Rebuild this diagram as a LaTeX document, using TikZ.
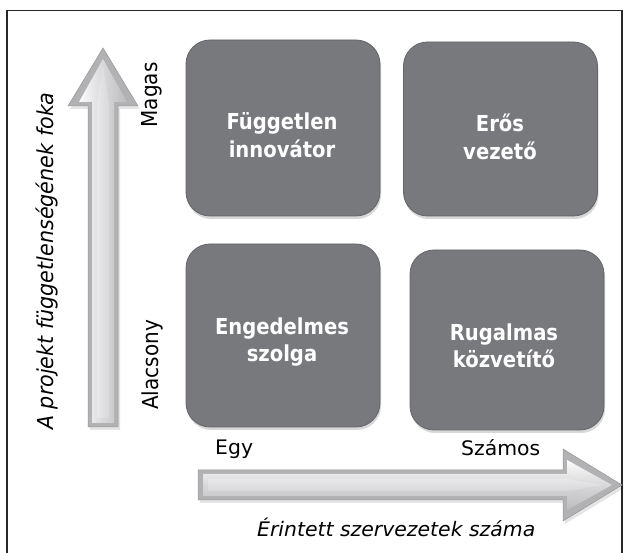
\documentclass[tikz,border=0pt]{standalone}
\usepackage{fontspec}
\setmainfont{DejaVu Sans}
\newfontfamily\boxfont{DejaVu Sans}[FakeStretch=0.89]
\newfontfamily\hfont{DejaVu Sans}[FakeStretch=1.02]
\newfontfamily\vfont{DejaVu Sans}[FakeStretch=0.91]
\newfontfamily\vlabfont{DejaVu Sans}[FakeStretch=0.94]
\usetikzlibrary{shadows}
\definecolor{boxgray}{RGB}{120,121,125}
\definecolor{boxedge}{RGB}{100,101,105}
\definecolor{framecol}{RGB}{40,40,40}
\definecolor{arrowedge}{RGB}{178,178,180}
\definecolor{arrowline}{RGB}{150,150,152}
\definecolor{arrowdark}{RGB}{188,188,190}
\definecolor{arrowlight}{RGB}{252,252,252}
\definecolor{arrowmid}{RGB}{216,216,218}
\begin{document}
\begin{tikzpicture}[x=1pt,y=-1pt,
  quad/.style={draw=boxedge, line width=0.8pt, fill=boxgray, rounded corners=24pt,
    minimum width=194pt, inner sep=0pt,
    drop shadow={shadow xshift=1pt, shadow yshift=-3pt, opacity=0.3}},
  quadtext/.style={text=white, align=center, inner sep=0pt,
    font=\boxfont\bfseries\fontsize{22}{27.5}\selectfont},
  tickh/.style={font=\hfont\fontsize{20}{24}\selectfont, inner sep=0pt},
  tickv/.style={font=\vfont\fontsize{22}{26}\selectfont, inner sep=0pt, rotate=90, anchor=base},
  axish/.style={font=\hfont\itshape\fontsize{20}{24}\selectfont, inner sep=0pt},
  axisv/.style={font=\vlabfont\itshape\fontsize{22}{26}\selectfont, inner sep=0pt, rotate=90, anchor=base west},
  arrowouter/.style={fill=arrowedge, draw=arrowline, line width=0.5pt},
  arrowshadow/.style={fill=black, opacity=0.1},
]
\useasboundingbox (0,0) rectangle (625,553);
\fill[white] (0,0) rectangle (625,553);
% frame
\draw[framecol, line width=1.5pt] (7,575) -- (7,10.5) -- (622,10.5) -- (622,575);

% vertical arrow
\fill[arrowshadow] (90,430) -- (90,109) -- (70,109) -- (105,51) -- (140,109) -- (120,109) -- (120,430) -- cycle;
\path[arrowouter] (88,427) -- (88,106) -- (68,106) -- (103,48) -- (138,106) -- (118,106) -- (118,427) -- cycle;
\path[left color=arrowlight, right color=arrowdark, middle color=arrowmid]
  (92,423) -- (92,102) -- (79,102) -- (103,59) -- (127,102) -- (114,102) -- (114,423) -- cycle;
\path[left color=arrowmid!60!white, right color=arrowmid]
  (97,418) -- (97,102) -- (103,66) -- (109,102) -- (109,418) -- cycle;

% horizontal arrow
\fill[arrowshadow] (200,473) -- (565,473) -- (565,452) -- (624,488) -- (565,524) -- (565,503) -- (200,503) -- cycle;
\path[arrowouter] (198,470) -- (563,470) -- (563,449) -- (622,485) -- (563,521) -- (563,500) -- (198,500) -- cycle;
\path[top color=arrowlight, bottom color=arrowdark, middle color=arrowmid]
  (203,474) -- (567,474) -- (567,460) -- (612,485) -- (567,510) -- (567,496) -- (203,496) -- cycle;
\path[top color=arrowmid!60!white, bottom color=arrowmid]
  (208,479) -- (567,479) -- (604,485) -- (567,491) -- (208,491) -- cycle;

% boxes
\node[quad, minimum height=176pt] (fi) at (283,128) {};
\node[quad, minimum height=174pt] (ev) at (500.5,129) {};
\node[quad, minimum height=183pt] (es) at (283,335.5) {};
\node[quad, minimum height=180pt] (rk) at (507,340) {};

\node[quadtext] (fit) at (282,135) {Független\\innovátor};
\node[quadtext] (evt) at (500,137) {Erős\\vezető};
\node[quadtext] (est) at (282,342) {Engedelmes\\szolga};
\node[quadtext] (rkt) at (504,346) {Rugalmas\\közvetítő};

% tick labels
\node[tickv] (magas) at (157,95) {Magas};
\node[tickv] (alacsony) at (158,365) {Alacsony};
\node[tickh, anchor=base west] (egy) at (215,455) {Egy};
\node[tickh, anchor=base west] (szamos) at (461,455.5) {Számos};

% axis labels
\node[axish, anchor=base west] (xlab) at (257,537) {Érintett szervezetek száma};
\node[axisv] (ylab) at (53,430) {A projekt függetlenségének foka};
\end{tikzpicture}
\end{document}
